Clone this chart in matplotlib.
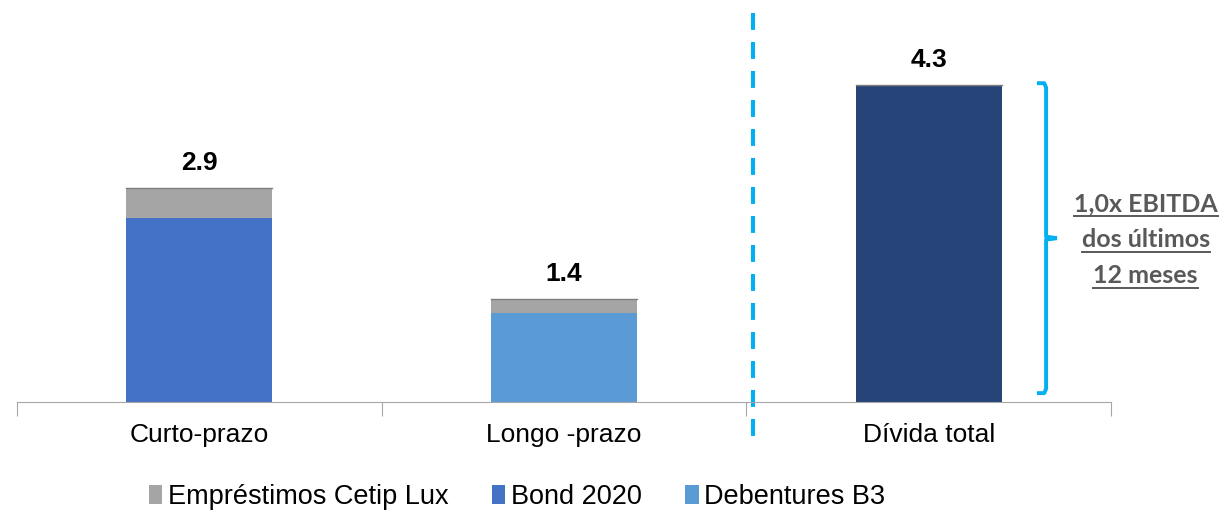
import numpy as np
import matplotlib
matplotlib.use("Agg")
import matplotlib.pyplot as plt

# data
categories = ['Curto-prazo', 'Longo -prazo', 'Dívida total']
emprestimos = [0.4, 0.2, 0.0]
bond_2020 = [2.5, 0.0, 0.0]
debentures = [0.0, 1.2, 0.0]
divida_total = [0.0, 0.0, 4.3]
totals = [2.9, 1.4, 4.3]
note_lines = ['1,0x EBITDA', 'dos últimos', '12 meses']

GRAY = '#A5A5A5'
BLUE = '#4472C4'
LIGHT = '#5B9BD5'
NAVY = '#264478'
CYAN = '#00B0F0'

plt.rcParams['font.family'] = ['Liberation Sans', 'DejaVu Sans']

fig = plt.figure(figsize=(12.21, 5.12), dpi=100)
ax = fig.add_axes([17 / 1221, 1 - 402 / 512, (1111 - 17) / 1221, 402 / 512])

x = np.arange(len(categories))
w = 0.4
base = np.array(bond_2020) + np.array(debentures)

h_bond = ax.bar(x, bond_2020, w, color=BLUE, label='Bond 2020')
h_deb = ax.bar(x, debentures, w, color=LIGHT, label='Debentures B3')
ax.bar(x, divida_total, w, color=NAVY)
h_emp = ax.bar(x, emprestimos, w, bottom=base, color=GRAY, label='Empréstimos Cetip Lux')

# thin outline at the top of each stack
for xi, t in zip(x, totals):
    ax.plot([xi - w / 2, xi + w / 2], [t, t], color='#7F7F7F', lw=1.0)
    ax.annotate(f'{t:.1f}', (xi, t), xytext=(0, 9), textcoords='offset points',
                ha='center', va='bottom', fontsize=19, fontweight='bold')

ax.set_xlim(-0.5, 2.5)
ax.set_ylim(0, 402 / 73.8)
for s in ['top', 'right', 'left']:
    ax.spines[s].set_visible(False)
ax.spines['bottom'].set_color('#A6A6A6')
ax.set_yticks([])

ax.set_xticks([-0.5, 0.5, 1.5, 2.5])
ax.set_xticklabels([])
ax.tick_params(axis='x', which='major', length=10, color='#A6A6A6', direction='out')
ax.set_xticks(x, minor=True)
ax.set_xticklabels(categories, minor=True, fontsize=19)
ax.tick_params(axis='x', which='minor', length=0, pad=15)

# dashed separator
ax.plot([1.518, 1.518], [5.27, -0.55], color=CYAN, lw=2.9, ls=(0, (4.2, 3.0)), clip_on=False)

# brace next to total bar
bx = 2 + w / 2 + 0.122
y0, y1 = 0.12, 4.32
ym = (y0 + y1) / 2
ax.plot([bx - 0.025, bx - 0.005, bx, bx, bx + 0.03], [y1, y1, y1 - 0.06, ym + 0.02, ym],
        color=CYAN, lw=2.8, clip_on=False, solid_capstyle='butt')
ax.plot([bx + 0.03, bx, bx, bx - 0.005, bx - 0.025], [ym, ym - 0.02, y0 + 0.06, y0, y0],
        color=CYAN, lw=2.8, clip_on=False, solid_capstyle='butt')

tx = 2.595
texts = []
for i, line in enumerate(note_lines):
    t = ax.text(tx, 2.69 - i * 0.49, line, ha='center', va='center', fontsize=18,
                fontweight='bold', color='#595959', family=['Lato', 'DejaVu Sans'],
                clip_on=False)
    texts.append(t)

fig.canvas.draw()
r = fig.canvas.get_renderer()
for t in texts:
    bb = t.get_window_extent(r)
    y_ul = bb.y0 - 1
    fig.add_artist(plt.Line2D([bb.x0 / fig.bbox.width, bb.x1 / fig.bbox.width],
                              [y_ul / fig.bbox.height] * 2, color='#595959', lw=1.4))

ax.legend([h_emp, h_bond, h_deb], ['Empréstimos Cetip Lux', 'Bond 2020', 'Debentures B3'],
          loc='center', bbox_to_anchor=(517 / 1221, 15 / 512), bbox_transform=fig.transFigure,
          ncol=3, frameon=False, fontsize=19.5, handlelength=0.5, handleheight=0.7,
          handletextpad=0.2, columnspacing=1.6)

fig.savefig('out.png', dpi=100)
